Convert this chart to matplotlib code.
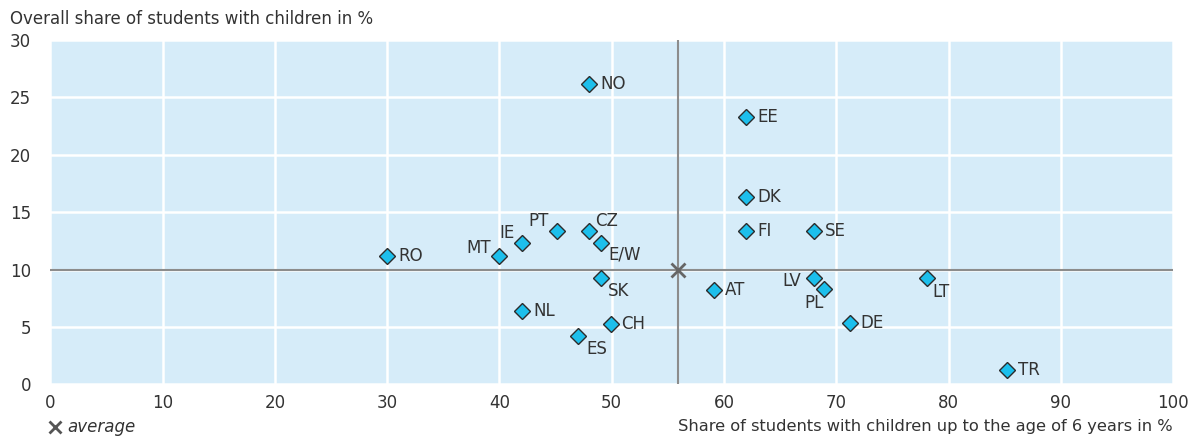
import matplotlib.pyplot as plt

plt.rcParams['font.family'] = ['DejaVu Sans']

countries = ['NO', 'EE', 'DK', 'FI', 'SE', 'RO', 'MT', 'IE', 'PT', 'CZ', 'E/W',
             'SK', 'NL', 'CH', 'ES', 'AT', 'LV', 'PL', 'DE', 'LT', 'TR']
share_young = [48.0, 62.0, 62.0, 62.0, 68.0, 30.0, 40.0, 42.0, 45.1, 48.0, 49.0,
               49.0, 42.0, 49.9, 47.0, 59.1, 68.0, 68.9, 71.2, 78.1, 85.2]
share_total = [26.2, 23.3, 16.3, 13.35, 13.35, 11.2, 11.2, 12.3, 13.35, 13.35, 12.3,
               9.3, 6.4, 5.25, 4.2, 8.2, 9.3, 8.3, 5.3, 9.3, 1.25]
avg_young = 55.9
avg_total = 10.0

# label placement: offset in pixels (dx, dy) and horizontal alignment
offsets = {
    'MT': (-8, 8, 'right'), 'IE': (-7, 10, 'right'), 'PT': (-8, 10, 'right'),
    'CZ': (6, 10, 'left'), 'E/W': (8, -11, 'left'), 'SK': (7, -13, 'left'),
    'ES': (8, -13, 'left'), 'LV': (-13, -3, 'right'), 'PL': (-10, -14, 'center'),
    'LT': (5, -14, 'left'),
}

FS = 12
TXT = '#333333'

fig = plt.figure(figsize=(12.01, 4.42), dpi=100)
ax = fig.add_axes([0.042, 0.1305, 0.9347, 0.779])
ax.set_facecolor('#d6ecf9')
ax.set_xlim(0, 100)
ax.set_ylim(0, 30)
ax.set_xticks(range(0, 101, 10))
ax.set_yticks(range(0, 31, 5))
ax.grid(True, color='white', linewidth=1.8)
ax.set_axisbelow(True)
for s in ax.spines.values():
    s.set_visible(False)
ax.tick_params(length=0, labelsize=FS, colors=TXT)
ax.tick_params(axis='x', pad=7)
ax.tick_params(axis='y', pad=14)

ax.axvline(avg_young, color='#8c8c8c', linewidth=1.5, zorder=2)
ax.axhline(avg_total, color='#8c8c8c', linewidth=1.5, zorder=2)
ax.plot(avg_young, avg_total, marker='x', markersize=10, markeredgewidth=2,
        color='#666666', zorder=3)

ax.plot(share_young, share_total, linestyle='none', marker='D', markersize=8,
        markerfacecolor='#1cbfec', markeredgecolor='#2b2b2b', markeredgewidth=1,
        zorder=4)

for name, x, y in zip(countries, share_young, share_total):
    dx, dy, ha = offsets.get(name, (11, 0, 'left'))
    ax.annotate(name, (x, y), xytext=(dx * 0.72, dy * 0.72), textcoords='offset points',
                ha=ha, va='center', fontsize=FS, color=TXT, zorder=5)

fig.text(0.008, 0.957, 'Overall share of students with children in %',
         fontsize=FS, color=TXT, ha='left', va='center')
fig.text(0.9767, 0.035, 'Share of students with children up to the age of 6 years in %',
         fontsize=11.7, color=TXT, ha='right', va='center')
ax.plot([0.004], [-0.125], transform=ax.transAxes, marker='x', markersize=8,
        markeredgewidth=2, color='#555555', clip_on=False)
fig.text(0.056, 0.035, 'average', fontsize=FS, style='italic', color=TXT,
         ha='left', va='center')

fig.savefig('out.png', dpi=100)
